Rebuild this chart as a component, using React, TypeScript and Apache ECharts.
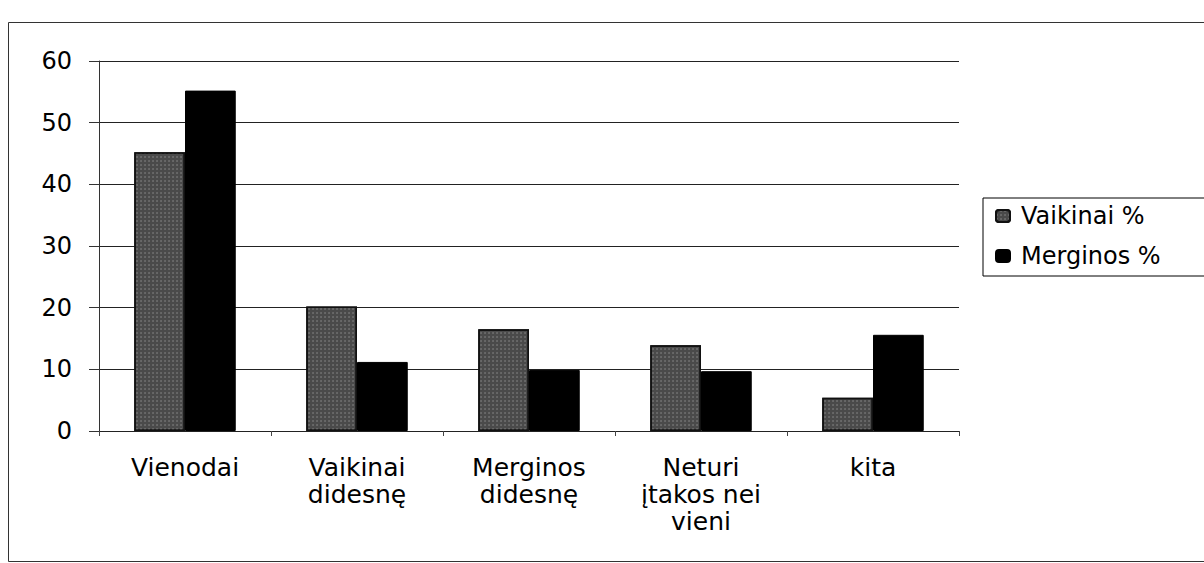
import React, { useEffect, useRef } from "react";
import * as echarts from "echarts";

const categories = ["Vienodai", "Vaikinai\ndidesnę", "Merginos\ndidesnę", "Neturi\nįtakos nei\nvieni", "kita"];
const seriesNames = ["Vaikinai %", "Merginos %"];
const vaikinai = [45.2, 20.2, 16.5, 13.9, 5.4];
const merginos = [55.2, 11.2, 9.9, 9.7, 15.6];
const yMin = 0;
const yMax = 60;
const yInterval = 10;

const FONT = "DejaVu Sans";

export default function App() {
  const ref = useRef<HTMLDivElement>(null);
  useEffect(() => {
    if (!ref.current) return;
    const chart = echarts.init(ref.current, undefined, { renderer: "svg" });
    chart.setOption({
      animation: false,
      backgroundColor: "#ffffff",
      grid: { left: 99, right: 245, top: 61, bottom: 132, containLabel: false },
      legend: {
        orient: "vertical",
        left: 983,
        top: 198,
        padding: [4, 56, 6, 12],
        itemGap: 12,
        itemWidth: 14,
        itemHeight: 12,
        borderColor: "#000",
        borderWidth: 1,
        textStyle: { fontFamily: FONT, fontSize: 24, color: "#000", lineHeight: 28, padding: [0, 0, 0, 6] },
        data: seriesNames,
      },
      xAxis: {
        type: "category",
        data: categories,
        axisLine: { show: true, lineStyle: { color: "#222", width: 1 } },
        axisTick: { show: true, length: 5, lineStyle: { color: "#444" } },
        axisLabel: {
          fontFamily: FONT,
          fontSize: 25,
          color: "#000",
          margin: 23,
          lineHeight: 27,
          interval: 0,
        },
      },
      yAxis: {
        type: "value",
        min: yMin,
        max: yMax,
        interval: yInterval,
        axisLine: { show: true, lineStyle: { color: "#333", width: 1 } },
        axisTick: { show: true, inside: false, length: 10, lineStyle: { color: "#333" } },
        axisLabel: { fontFamily: FONT, fontSize: 24, color: "#000", margin: 27 },
        splitLine: { show: true, lineStyle: { color: "#222", width: 1 } },
      },
      series: [
        {
          name: seriesNames[0],
          type: "bar",
          data: vaikinai,
          barGap: "0%",
          barCategoryGap: "41%",
          itemStyle: {
            color: "#4a4a4a",
            borderColor: "#111",
            borderWidth: 1.5,
            decal: {
              symbol: "circle",
              symbolSize: 0.6,
              color: "rgba(255,255,255,0.45)",
              dashArrayX: [2, 2],
              dashArrayY: [2, 2],
              rotation: 0,
            },
          },
        },
        {
          name: seriesNames[1],
          type: "bar",
          data: merginos,
          itemStyle: { color: "#000", borderColor: "#000", borderWidth: 1 },
        },
      ],
      graphic: [
        {
          type: "rect",
          shape: { x: 8.5, y: 22.5, width: 1210, height: 539 },
          style: { fill: "none", stroke: "#333", lineWidth: 1 },
          silent: true,
        },
      ],
    });
    return () => chart.dispose();
  }, []);
  return (
    <div
      ref={ref}
      style={{ position: "fixed", left: 0, top: 0, width: 1204, height: 563, background: "#fff" }}
    />
  );
}
